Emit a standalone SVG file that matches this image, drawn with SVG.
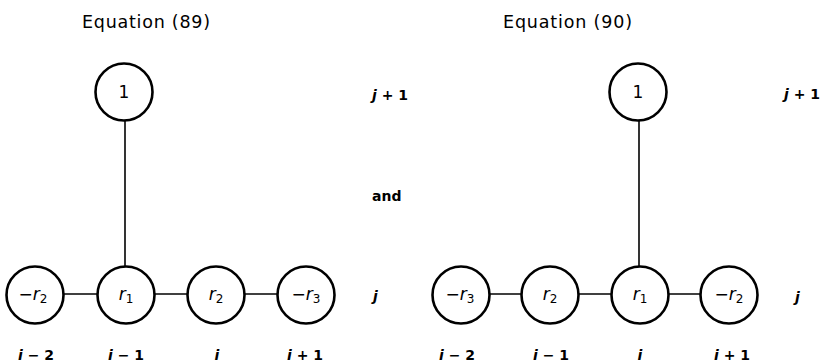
<svg xmlns="http://www.w3.org/2000/svg" width="825" height="364" viewBox="0 0 825 364">
<style>
.node circle{fill:#fff;stroke:#000;stroke-width:2.6}
.conn line{stroke:#000;stroke-width:1.6}
text{font-family:"DejaVu Sans","Liberation Sans",sans-serif;fill:#000}
.title{font-size:17.5px}
.lbl{font-size:17px;text-anchor:middle}
.idx{font-size:14px;font-weight:bold;text-anchor:middle}
.side{font-size:14px;font-weight:bold}
.v{font-style:italic}
.sub{font-size:12px}
</style>
<rect width="825" height="364" fill="#fff"/>
<text class="title" x="82" y="28" textLength="128" lengthAdjust="spacing">Equation (89)</text>
<text class="title" x="503" y="28" textLength="129" lengthAdjust="spacing">Equation (90)</text>
<g class="conn" id="connectors">
<line x1="125" y1="120" x2="125" y2="267"/>
<line x1="63" y1="294" x2="97" y2="294"/>
<line x1="153" y1="294" x2="188" y2="294"/>
<line x1="244" y1="294" x2="278" y2="294"/>
<line x1="639" y1="120" x2="639" y2="267"/>
<line x1="489" y1="294" x2="522" y2="294"/>
<line x1="578" y1="294" x2="612" y2="294"/>
<line x1="668" y1="294" x2="701" y2="294"/>
</g>
<g class="node" id="L-top"><circle cx="124" cy="92" r="28.5"/><text class="lbl" x="124" y="98">1</text></g>
<g class="node" id="L-a"><circle cx="35" cy="295" r="28.5"/><text class="lbl" x="33" y="300">−<tspan class="v">r</tspan><tspan class="sub" dy="3">2</tspan></text></g>
<g class="node" id="L-b"><circle cx="126" cy="295" r="28.5"/><text class="lbl" x="126" y="300"><tspan class="v">r</tspan><tspan class="sub" dy="3">1</tspan></text></g>
<g class="node" id="L-c"><circle cx="216" cy="295" r="28.5"/><text class="lbl" x="216" y="300"><tspan class="v">r</tspan><tspan class="sub" dy="3">2</tspan></text></g>
<g class="node" id="L-d"><circle cx="306" cy="295" r="28.5"/><text class="lbl" x="306" y="300">−<tspan class="v">r</tspan><tspan class="sub" dy="3">3</tspan></text></g>
<g class="node" id="R-top"><circle cx="638" cy="92" r="28.5"/><text class="lbl" x="638" y="98">1</text></g>
<g class="node" id="R-a"><circle cx="461" cy="295" r="28.5"/><text class="lbl" x="460" y="300">−<tspan class="v">r</tspan><tspan class="sub" dy="3">3</tspan></text></g>
<g class="node" id="R-b"><circle cx="550" cy="295" r="28.5"/><text class="lbl" x="550" y="300"><tspan class="v">r</tspan><tspan class="sub" dy="3">2</tspan></text></g>
<g class="node" id="R-c"><circle cx="640" cy="295" r="28.5"/><text class="lbl" x="640" y="300"><tspan class="v">r</tspan><tspan class="sub" dy="3">1</tspan></text></g>
<g class="node" id="R-d"><circle cx="729" cy="295" r="28.5"/><text class="lbl" x="729" y="300">−<tspan class="v">r</tspan><tspan class="sub" dy="3">2</tspan></text></g>
<g id="labels">
<text class="side" x="372" y="100"><tspan class="v">j</tspan> + 1</text>
<text class="side" x="372" y="201">and</text>
<text class="side" x="373" y="301"><tspan class="v">j</tspan></text>
<text class="side" x="784" y="99"><tspan class="v">j</tspan> + 1</text>
<text class="side" x="795" y="302"><tspan class="v">j</tspan></text>
<text class="idx" x="36" y="360"><tspan class="v">i</tspan> − 2</text>
<text class="idx" x="126" y="360"><tspan class="v">i</tspan> − 1</text>
<text class="idx" x="217" y="360"><tspan class="v">i</tspan></text>
<text class="idx" x="305" y="360"><tspan class="v">i</tspan> + 1</text>
<text class="idx" x="457" y="360"><tspan class="v">i</tspan> − 2</text>
<text class="idx" x="551" y="360"><tspan class="v">i</tspan> − 1</text>
<text class="idx" x="640" y="360"><tspan class="v">i</tspan></text>
<text class="idx" x="732" y="360"><tspan class="v">i</tspan> + 1</text>
</g>
</svg>
